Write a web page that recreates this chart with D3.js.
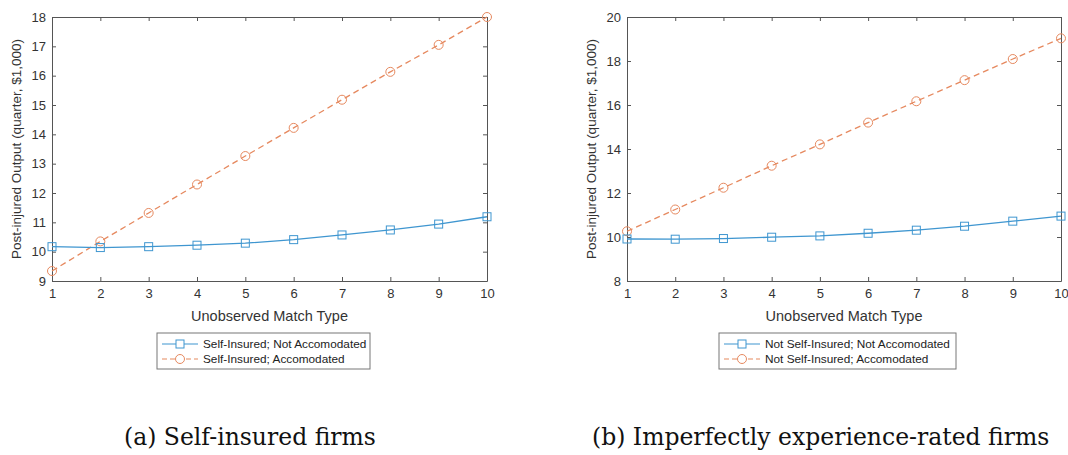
<!DOCTYPE html>
<html>
<head>
<meta charset="utf-8">
<script src="https://cdn.jsdelivr.net/npm/d3@7"></script>
<style>
  body { margin: 0; background: #fff; }
  svg { display: block; }
</style>
</head>
<body>
<div id="svg-container"></div>
<script>
// data
var matchTypes = [1, 2, 3, 4, 5, 6, 7, 8, 9, 10];

var selfNotAcc = [10.17, 10.14, 10.17, 10.22, 10.29, 10.41, 10.57, 10.74, 10.94, 11.19];
var selfAcc    = [9.34, 10.35, 11.32, 12.29, 13.26, 14.22, 15.18, 16.13, 17.05, 18.0];

var notSelfNotAcc = [9.91, 9.90, 9.93, 9.99, 10.05, 10.17, 10.31, 10.49, 10.72, 10.95];
var notSelfAcc    = [10.26, 11.25, 12.24, 13.24, 14.21, 15.2, 16.17, 17.13, 18.09, 19.03];

var leftYTicks  = [9, 10, 11, 12, 13, 14, 15, 16, 17, 18];
var rightYTicks = [8, 10, 12, 14, 16, 18, 20];

var blue   = "#3f96d0";
var orange = "#e6895f";
var axisGrey = "#555";
var textGrey = "#333";

var svg = d3.select("#svg-container")
  .append("svg")
  .attr("width", 1068)
  .attr("height", 455);

svg.append("rect")
  .attr("width", "100%")
  .attr("height", "100%")
  .style("fill", "white");

function drawPanel(opt) {
  var x = d3.scaleLinear().domain([1, 10]).range([opt.left, opt.right]);
  var y = d3.scaleLinear().domain(opt.yDomain).range([281, 17]);
  var g = svg.append("g");

  // axes, MATLAB style with inward ticks on all sides
  var axB = g.append("g").attr("transform", "translate(0,281)")
    .call(d3.axisBottom(x).tickValues(matchTypes).tickSizeInner(-4).tickSizeOuter(0).tickPadding(8));
  var axT = g.append("g").attr("transform", "translate(0,17)")
    .call(d3.axisTop(x).tickValues(matchTypes).tickSizeInner(-4).tickSizeOuter(0).tickFormat(""));
  var axL = g.append("g").attr("transform", "translate(" + opt.left + ",0)")
    .call(d3.axisLeft(y).tickValues(opt.yTicks).tickSizeInner(-4).tickSizeOuter(0).tickPadding(6));
  var axR = g.append("g").attr("transform", "translate(" + opt.right + ",0)")
    .call(d3.axisRight(y).tickValues(opt.yTicks).tickSizeInner(-4).tickSizeOuter(0).tickFormat(""));

  [axB, axT, axL, axR].forEach(function(a) {
    a.select(".domain").attr("stroke", axisGrey).attr("stroke-width", 1);
    a.selectAll(".tick line").attr("stroke", axisGrey);
    a.selectAll(".tick text")
      .attr("fill", textGrey)
      .attr("font-family", "Liberation Sans, Arial, sans-serif")
      .attr("font-size", "13px");
  });

  var line = d3.line()
    .x(function(d, i) { return x(matchTypes[i]); })
    .y(function(d) { return y(d); });

  // accommodated (dashed, circles)
  g.append("path")
    .datum(opt.acc)
    .attr("d", line)
    .attr("fill", "none")
    .attr("stroke", orange)
    .attr("stroke-width", 1.3)
    .attr("stroke-dasharray", "6,4");
  g.selectAll(".circ")
    .data(opt.acc)
    .enter()
      .append("circle")
      .attr("cx", function(d, i) { return x(matchTypes[i]); })
      .attr("cy", function(d) { return y(d); })
      .attr("r", 4.5)
      .attr("fill", "none")
      .attr("stroke", orange)
      .attr("stroke-width", 1);

  // not accommodated (solid, squares)
  g.append("path")
    .datum(opt.notAcc)
    .attr("d", line)
    .attr("fill", "none")
    .attr("stroke", blue)
    .attr("stroke-width", 1.3);
  g.selectAll(".sq")
    .data(opt.notAcc)
    .enter()
      .append("rect")
      .attr("x", function(d, i) { return x(matchTypes[i]) - 4; })
      .attr("y", function(d) { return y(d) - 4; })
      .attr("width", 8)
      .attr("height", 8)
      .attr("fill", "none")
      .attr("stroke", blue)
      .attr("stroke-width", 1);

  // axis labels
  g.append("text")
    .attr("x", (opt.left + opt.right) / 2)
    .attr("y", 321)
    .attr("text-anchor", "middle")
    .attr("font-family", "Liberation Sans, Arial, sans-serif")
    .attr("font-size", "14.5px")
    .attr("fill", textGrey)
    .text("Unobserved Match Type");

  g.append("text")
    .attr("transform", "translate(" + opt.yLabelX + ",149) rotate(-90)")
    .attr("text-anchor", "middle")
    .attr("font-family", "Liberation Sans, Arial, sans-serif")
    .attr("font-size", "13.5px")
    .attr("fill", textGrey)
    .text("Post-injured Output (quarter, $1,000)");

  // legend
  var lg = g.append("g").attr("transform", "translate(" + opt.legX + ",333)");
  lg.append("rect")
    .attr("width", opt.legW)
    .attr("height", 36)
    .attr("fill", "white")
    .attr("stroke", "#777")
    .attr("stroke-width", 1);
  var items = [
    { name: opt.names[0], color: blue, dash: null, shape: "square" },
    { name: opt.names[1], color: orange, dash: "5,3", shape: "circle" }
  ];
  items.forEach(function(it, i) {
    var cy = 11 + i * 15;
    lg.append("line")
      .attr("x1", 5).attr("x2", 41)
      .attr("y1", cy).attr("y2", cy)
      .attr("stroke", it.color)
      .attr("stroke-width", 1.2)
      .attr("stroke-dasharray", it.dash);
    if (it.shape === "square") {
      lg.append("rect")
        .attr("x", 19).attr("y", cy - 4)
        .attr("width", 8).attr("height", 8)
        .attr("fill", "white")
        .attr("stroke", it.color);
    } else {
      lg.append("circle")
        .attr("cx", 23).attr("cy", cy)
        .attr("r", 4.5)
        .attr("fill", "white")
        .attr("stroke", it.color);
    }
    lg.append("text")
      .attr("x", 46)
      .attr("y", cy + 4)
      .attr("font-family", "Liberation Sans, Arial, sans-serif")
      .attr("font-size", "11.8px")
      .attr("fill", "#222")
      .text(it.name);
  });

  // caption
  svg.append("text")
    .attr("x", opt.capX)
    .attr("y", 445)
    .attr("font-family", "DejaVu Serif, Liberation Serif, serif")
    .attr("font-size", "23.5px")
    .attr("fill", "#111")
    .text(opt.caption);
}

drawPanel({
  left: 52, right: 487,
  yDomain: [9, 18], yTicks: leftYTicks,
  acc: selfAcc, notAcc: selfNotAcc,
  yLabelX: 21,
  legX: 157, legW: 213,
  names: ["Self-Insured; Not Accomodated", "Self-Insured; Accomodated"],
  capX: 124, caption: "(a) Self-insured firms"
});

drawPanel({
  left: 627, right: 1061,
  yDomain: [8, 20], yTicks: rightYTicks,
  acc: notSelfAcc, notAcc: notSelfNotAcc,
  yLabelX: 596,
  legX: 719, legW: 237,
  names: ["Not Self-Insured; Not Accomodated", "Not Self-Insured; Accomodated"],
  capX: 592, caption: "(b) Imperfectly experience-rated firms"
});
</script>
</body>
</html>
